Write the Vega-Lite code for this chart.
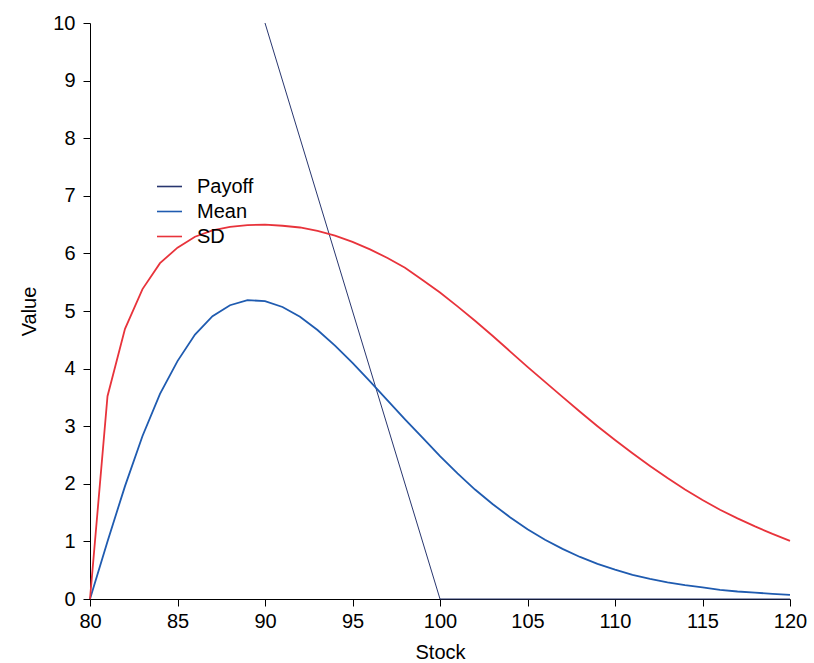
{
  "$schema": "https://vega.github.io/schema/vega-lite/v6.json",
  "autosize": "none",
  "width": 700,
  "height": 576,
  "padding": {"left": 90, "top": 23, "right": 24, "bottom": 64},
  "background": "white",
  "config": {
    "view": {"stroke": null},
    "font": "Liberation Sans"
  },
  "datasets": {
    "curves": [
      {"Stock": 80, "Mean": 0, "SD": 0},
      {"Stock": 81, "Mean": 1.0, "SD": 3.52},
      {"Stock": 82, "Mean": 1.96, "SD": 4.69},
      {"Stock": 83, "Mean": 2.83, "SD": 5.38},
      {"Stock": 84, "Mean": 3.56, "SD": 5.83},
      {"Stock": 85, "Mean": 4.13, "SD": 6.1},
      {"Stock": 86, "Mean": 4.59, "SD": 6.29},
      {"Stock": 87, "Mean": 4.91, "SD": 6.4},
      {"Stock": 88, "Mean": 5.1, "SD": 6.46},
      {"Stock": 89, "Mean": 5.19, "SD": 6.49},
      {"Stock": 90, "Mean": 5.17, "SD": 6.5},
      {"Stock": 91, "Mean": 5.07, "SD": 6.48},
      {"Stock": 92, "Mean": 4.9, "SD": 6.45},
      {"Stock": 93, "Mean": 4.67, "SD": 6.39},
      {"Stock": 94, "Mean": 4.4, "SD": 6.31},
      {"Stock": 95, "Mean": 4.1, "SD": 6.2},
      {"Stock": 96, "Mean": 3.78, "SD": 6.07},
      {"Stock": 97, "Mean": 3.45, "SD": 5.92},
      {"Stock": 98, "Mean": 3.12, "SD": 5.75},
      {"Stock": 99, "Mean": 2.8, "SD": 5.54},
      {"Stock": 100, "Mean": 2.48, "SD": 5.32},
      {"Stock": 101, "Mean": 2.18, "SD": 5.08},
      {"Stock": 102, "Mean": 1.9, "SD": 4.83},
      {"Stock": 103, "Mean": 1.65, "SD": 4.57},
      {"Stock": 104, "Mean": 1.42, "SD": 4.3},
      {"Stock": 105, "Mean": 1.21, "SD": 4.03},
      {"Stock": 106, "Mean": 1.03, "SD": 3.77},
      {"Stock": 107, "Mean": 0.87, "SD": 3.51},
      {"Stock": 108, "Mean": 0.73, "SD": 3.25},
      {"Stock": 109, "Mean": 0.61, "SD": 3.0},
      {"Stock": 110, "Mean": 0.51, "SD": 2.76},
      {"Stock": 111, "Mean": 0.42, "SD": 2.53},
      {"Stock": 112, "Mean": 0.35, "SD": 2.31},
      {"Stock": 113, "Mean": 0.29, "SD": 2.1},
      {"Stock": 114, "Mean": 0.24, "SD": 1.9},
      {"Stock": 115, "Mean": 0.2, "SD": 1.72},
      {"Stock": 116, "Mean": 0.16, "SD": 1.55},
      {"Stock": 117, "Mean": 0.13, "SD": 1.4},
      {"Stock": 118, "Mean": 0.11, "SD": 1.26},
      {"Stock": 119, "Mean": 0.09, "SD": 1.13},
      {"Stock": 120, "Mean": 0.07, "SD": 1.01}
    ],
    "payoff": [
      {"Stock": 90, "Payoff": 10},
      {"Stock": 100, "Payoff": 0},
      {"Stock": 120, "Payoff": 0}
    ]
  },
  "layer": [
    {
      "data": {"name": "payoff"},
      "transform": [{"fold": ["Payoff"], "as": ["Series", "Value"]}],
      "mark": {"type": "line", "strokeWidth": 1},
      "encoding": {
        "x": {"field": "Stock", "type": "quantitative"},
        "y": {"field": "Value", "type": "quantitative"},
        "color": {"field": "Series", "type": "nominal"}
      }
    },
    {
      "data": {"name": "curves"},
      "transform": [{"fold": ["Mean", "SD"], "as": ["Series", "Value"]}],
      "mark": {"type": "line", "strokeWidth": 1.8},
      "encoding": {
        "x": {
          "field": "Stock", "type": "quantitative",
          "scale": {"domain": [80, 120], "nice": false, "zero": false},
          "axis": {
            "values": [80, 85, 90, 95, 100, 105, 110, 115, 120], "format": "d",
            "title": "Stock", "labelFlush": false, "grid": false,
            "domainColor": "black", "tickColor": "black", "tickSize": 7,
            "labelFontSize": 20, "titleFontSize": 20, "titleFontWeight": "normal",
            "labelColor": "black", "titleColor": "black",
            "labelPadding": 5, "titlePadding": 11
          }
        },
        "y": {
          "field": "Value", "type": "quantitative",
          "scale": {"domain": [0, 10], "nice": false},
          "axis": {
            "values": [0,1,2,3,4,5,6,7,8,9,10], "format": "d",
            "title": "Value", "grid": false,
            "domainColor": "black", "tickColor": "black", "tickSize": 7,
            "labelFontSize": 20, "titleFontSize": 20, "titleFontWeight": "normal",
            "labelColor": "black", "titleColor": "black",
            "labelPadding": 8, "titlePadding": 13
          }
        },
        "color": {
          "field": "Series", "type": "nominal",
          "scale": {"domain": ["Payoff", "Mean", "SD"], "range": ["#28366f", "#1f5bb0", "#e8333b"]},
          "legend": {
            "orient": "none", "legendX": 66, "legendY": 150,
            "title": null, "symbolType": "stroke", "symbolSize": 625,
            "symbolStrokeWidth": 1.6, "labelFontSize": 20,
            "labelColor": "black", "rowPadding": 1, "labelOffset": 14
          }
        }
      }
    }
  ]
}
